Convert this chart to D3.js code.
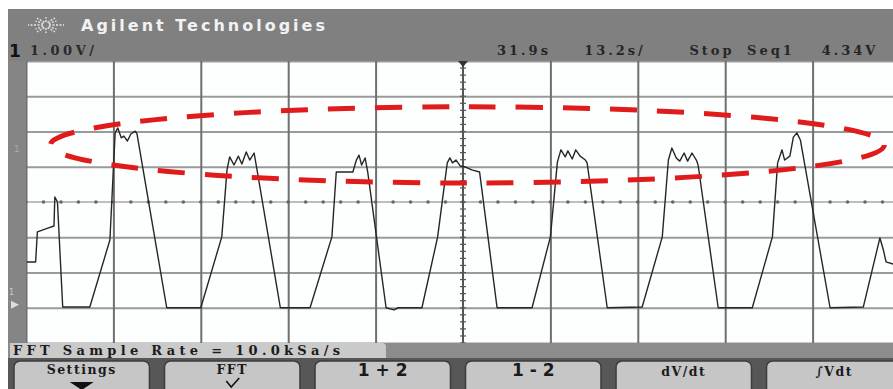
<!DOCTYPE html>
<html>
<head>
<meta charset="utf-8">
<script src="https://cdn.jsdelivr.net/npm/d3@7"></script>
<style>
  body { margin: 0; background: #fff; }
  svg { display: block; font-family: "DejaVu Sans", sans-serif; }
  .grid-x line { stroke: #6f6f6f; stroke-width: 2; }
  .grid-y line { stroke: #9a9a9a; stroke-width: 2; }
  .grid-x path, .grid-y path { display: none; }
  .trace { fill: none; stroke: #262626; stroke-width: 1.4; stroke-linejoin: round; }
  .lcd { font-family: "DejaVu Serif", serif; font-weight: bold; }
</style>
</head>
<body>
<div id="scope"></div>
<script>
// trace, in divisions (time) and volts (1.00V/div, 0 = centre line)
const traceT = [0.01, 0.11, 0.13, 0.25, 0.32, 0.33, 0.36, 0.42, 0.73, 0.96, 1.02, 1.05, 1.09, 1.12, 1.16, 1.20, 1.25, 1.27,
  1.61, 2.00, 2.24, 2.30, 2.33, 2.38, 2.43, 2.47, 2.52, 2.56, 2.61, 2.64,
  2.91, 3.25, 3.50, 3.55, 3.74, 3.78, 3.81, 3.84, 3.88, 3.91,
  4.12, 4.21, 4.26, 4.53, 4.71, 4.82, 4.85, 4.88, 4.92, 4.97, 5.03, 5.10, 5.19,
  5.39, 5.79, 6.00, 6.08, 6.12, 6.17, 6.20, 6.25, 6.29, 6.34, 6.40, 6.42,
  6.65, 7.05, 7.28, 7.35, 7.39, 7.44, 7.48, 7.53, 7.57, 7.62, 7.67, 7.69,
  7.92, 8.31, 8.54, 8.60, 8.65, 8.68, 8.74, 8.78, 8.82, 8.86,
  9.20, 9.58, 9.77, 9.81, 9.84, 9.92];
const traceV = [-1.70, -1.70, -0.85, -0.74, -0.68, 0.14, 0.00, -2.98, -2.98, -1.08, 1.96, 2.10, 1.82, 1.87, 1.73, 1.93, 2.01, 1.93,
  -3.00, -3.00, -0.99, 0.91, 1.28, 1.05, 1.30, 1.08, 1.42, 1.19, 1.39, 0.96,
  -3.00, -3.00, -0.99, 0.85, 0.85, 1.19, 1.33, 1.05, 1.25, 0.85,
  -3.00, -3.06, -3.00, -3.00, -0.99, 1.11, 1.25, 1.11, 1.19, 1.02, 0.99, 0.91, 0.85,
  -3.00, -3.00, -0.99, 1.13, 1.48, 1.28, 1.45, 1.22, 1.48, 1.30, 1.19, 1.11,
  -3.00, -2.98, -0.99, 1.19, 1.53, 1.25, 1.16, 1.39, 1.16, 1.39, 1.19, 1.05,
  -3.00, -3.00, -0.99, 1.11, 1.48, 1.19, 1.30, 1.84, 1.96, 1.76,
  -3.00, -2.98, -1.02, -1.36, -1.70, -1.76];

const divX = d3.range(0, 11);
const divY = d3.range(-4, 5);
const minorX = d3.range(0, 10.01, 0.2);
const minorY = d3.range(-4, 4.01, 0.2);

// red annotation ellipse (centre + radii, in divisions)
const markCentre = [5.05, 1.62];
const markRadius = [4.77, 1.08];

const statusLabels = ['31.9s', '13.2s/', 'Stop', 'Seq1', '4.34V'];
const statusPos = [524, 615, 712, 771, 850];
const buttonLabels = ['Settings', 'FFT', '1 + 2', '1 - 2', 'dV/dt', '\u222BVdt'];

const W = 893, H = 389;
const plot = {left: 26, right: 900, top: 61, bottom: 343};

const svg = d3.select('#scope').append('svg').attr('width', W).attr('height', H);

const x = d3.scaleLinear().domain([0, 10]).range([plot.left, plot.right]);
const y = d3.scaleLinear().domain([-4, 4]).range([plot.bottom, plot.top]);

// frame
svg.append('rect').attr('x', 8).attr('y', 9).attr('width', W - 8).attr('height', plot.top - 9).attr('fill', '#808080');
svg.append('rect').attr('x', 8).attr('y', plot.top).attr('width', plot.left - 8).attr('height', plot.bottom - plot.top).attr('fill', '#858585');
svg.append('rect').attr('x', plot.left).attr('y', plot.top).attr('width', W - plot.left).attr('height', plot.bottom - plot.top).attr('fill', '#fdfefe');

// grid
svg.append('clipPath').attr('id', 'clip')
  .append('rect').attr('x', plot.left).attr('y', plot.top).attr('width', W - plot.left).attr('height', plot.bottom - plot.top);
const grid = svg.append('g').attr('clip-path', 'url(#clip)');

grid.append('g').attr('class', 'grid-y')
  .attr('transform', `translate(${plot.left},0)`)
  .call(d3.axisLeft(y).tickValues(divY.filter(d => d !== 0)).tickSize(-(plot.right - plot.left)).tickFormat(''));
grid.append('g').attr('class', 'grid-x')
  .attr('transform', `translate(0,${plot.bottom})`)
  .call(d3.axisBottom(x).tickValues(divX.filter(d => d !== 5)).tickSize(-(plot.bottom - plot.top)).tickFormat(''));

// centre axes with minor ticks
grid.append('line').attr('x1', plot.left).attr('x2', plot.right).attr('y1', y(0)).attr('y2', y(0))
  .attr('stroke', '#a8a8a8').attr('stroke-width', 1.5);
grid.selectAll('.dotx').data(minorX).join('circle')
  .attr('cx', d => x(d)).attr('cy', y(0)).attr('r', 1.8).attr('fill', '#666');
grid.append('line').attr('x1', x(5)).attr('x2', x(5)).attr('y1', plot.top).attr('y2', plot.bottom)
  .attr('stroke', '#555').attr('stroke-width', 2);
grid.selectAll('.ticky').data(minorY).join('line')
  .attr('x1', x(5) - 3).attr('x2', x(5) + 3).attr('y1', d => y(d)).attr('y2', d => y(d))
  .attr('stroke', '#555').attr('stroke-width', 1.2);

// trace
const line = d3.line().x((d, i) => x(traceT[i])).y(d => y(d));
grid.append('path').datum(traceV).attr('class', 'trace').attr('d', line);

// annotation
svg.append('ellipse')
  .attr('cx', x(markCentre[0])).attr('cy', y(markCentre[1]))
  .attr('rx', x(markRadius[0]) - x(0)).attr('ry', y(0) - y(markRadius[1]))
  .attr('fill', 'none').attr('stroke', '#e01b1b').attr('stroke-width', 5)
  .attr('stroke-dasharray', '27 20');

// channel markers on the left strip
svg.append('text').attr('x', 14).attr('y', 152).attr('fill', '#aaa').attr('font-size', 9).text('1');
svg.append('path').attr('d', `M11,${y(-2.8)} l8,4 l-8,4 z`).attr('fill', '#ddd');
svg.append('text').attr('x', 9).attr('y', y(-2.6) + 1).attr('fill', '#ccc').attr('font-size', 8).text('1');

// header
const logo = svg.append('g').attr('transform', 'translate(46,25)');
d3.range(0, 360, 30).forEach(a => {
  const r = a * Math.PI / 180;
  logo.append('line').attr('x1', Math.cos(r) * 3).attr('y1', Math.sin(r) * 3)
    .attr('x2', Math.cos(r) * (a % 60 ? 12 : 18)).attr('y2', Math.sin(r) * 8)
    .attr('stroke', '#e8e8e8').attr('stroke-width', 1.4).attr('stroke-dasharray', '2 1.5');
});
svg.append('text').attr('x', 81).attr('y', 31).attr('fill', '#f2f2f2')
  .attr('font-size', 16).attr('font-weight', 'bold').attr('letter-spacing', 3).text('Agilent Technologies');
svg.append('text').attr('x', 9).attr('y', 57).attr('fill', '#111')
  .attr('font-size', 17).attr('font-weight', 'bold').text('1');
svg.append('text').attr('class', 'lcd').attr('x', 30).attr('y', 55).attr('fill', '#2a2a2a')
  .attr('font-size', 13).attr('letter-spacing', 3.5).text('1.00V/');
svg.selectAll('.status').data(statusLabels).join('text')
  .attr('class', 'lcd')
  .attr('x', (d, i) => statusPos[i]).attr('y', 55).attr('text-anchor', 'middle')
  .attr('fill', '#262626').attr('font-size', 13).attr('letter-spacing', 3).text(d => d);
svg.append('path').attr('d', `M${x(5) - 5},61 l5,6 l5,-6 z`).attr('fill', '#333');

// bottom: softkey bar
svg.append('rect').attr('x', 8).attr('y', plot.bottom).attr('width', W - 8).attr('height', H - plot.bottom).attr('fill', '#575757');
svg.append('rect').attr('x', 8).attr('y', plot.bottom).attr('width', W - 8).attr('height', 15).attr('fill', '#8c8c8c');
svg.append('path').attr('d', `M10,${plot.bottom} H382 q4,0 4,4 V${plot.bottom + 15} H10 z`).attr('fill', '#cacaca');
svg.append('text').attr('class', 'lcd').attr('x', 13).attr('y', plot.bottom + 12).attr('fill', '#1c1c1c')
  .attr('font-size', 13).attr('letter-spacing', 4.3).text('FFT Sample Rate = 10.0kSa/s');

const band = d3.scaleBand().domain(buttonLabels).range([14, 902]).paddingInner(0.1);
const keys = svg.selectAll('.key').data(buttonLabels).join('g')
  .attr('transform', d => `translate(${band(d)},${plot.bottom + 18})`);
keys.append('rect').attr('width', band.bandwidth()).attr('height', 40).attr('rx', 6)
  .attr('fill', '#c6c6c6').attr('stroke', '#3c3c3c').attr('stroke-width', 1.5);
keys.append('text').attr('x', band.bandwidth() / 2).attr('y', (d, i) => i < 2 ? 13 : 15)
  .attr('text-anchor', 'middle').attr('fill', '#1a1a1a').attr('font-weight', 'bold')
  .attr('class', (d, i) => (i === 2 || i === 3) ? null : 'lcd')
  .attr('font-size', (d, i) => (i === 2 || i === 3) ? 17 : 12.5)
  .attr('letter-spacing', (d, i) => (i === 2 || i === 3) ? 0 : 1.5)
  .text(d => d);
keys.filter((d, i) => i === 0).append('path')
  .attr('d', `M${band.bandwidth() / 2 - 12},21 h24 l-12,8 z`).attr('fill', '#111');
keys.filter((d, i) => i === 1).append('path')
  .attr('d', `M${band.bandwidth() / 2 - 6},20 l5,6 l8,-9`).attr('fill', 'none').attr('stroke', '#111').attr('stroke-width', 1.6);
</script>
</body>
</html>
